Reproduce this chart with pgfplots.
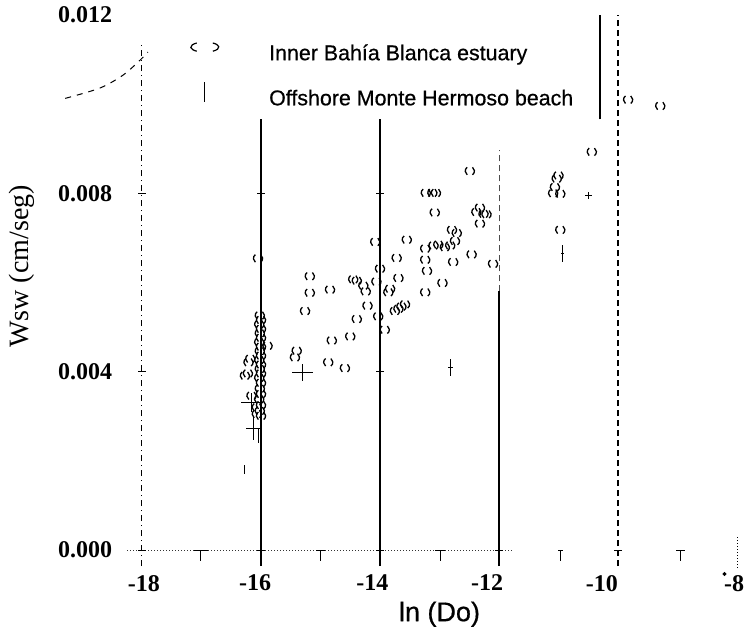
\documentclass[border=0pt]{standalone}
\usepackage{fontspec}
\setmainfont{Liberation Serif}
\newfontfamily\arial[FakeBold=0.6]{Liberation Sans}
\usepackage{pgfplots}
\pgfplotsset{compat=1.18}

% open circle as it came out of the scan: only the two side arcs
\pgfdeclareplotmark{paren}{%
  \pgfpathmoveto{\pgfpointpolar{125}{\pgfplotmarksize}}%
  \pgfpatharc{125}{235}{\pgfplotmarksize}%
  \pgfpathmoveto{\pgfpointpolar{-55}{\pgfplotmarksize}}%
  \pgfpatharc{-55}{55}{\pgfplotmarksize}%
  \pgfusepathqstroke
}

\begin{document}
\begin{tikzpicture}
\begin{axis}[
  name=ax,
  scale only axis, width=297.5pt, height=267.5pt,
  xmin=-18, xmax=-8, ymin=0, ymax=0.012,
  clip=false,
  axis line style={draw=none},
  major tick length=0pt,
  % labels sit a little off the grid lines in the scanned original
  xtick={-17.97,-16.10,-14.13,-12.20,-10.27,-8.05},
  xticklabels={-18,-16,-14,-12,-10,-8},
  ytick={0,0.004,0.008,0.012},
  yticklabels={0.000,0.004,0.008,0.012},
  scaled y ticks=false,
  ticklabel style={font=\fontsize{12}{14}\selectfont\bfseries},
  xticklabel style={yshift=-9pt},
  yticklabel style={xshift=-11.4pt},
  xlabel={ln (Do)},
  xlabel style={font=\arial\fontsize{13.5}{16}\selectfont, at={(axis description cs:0.5,-0.12)}, anchor=center},
  ylabel={Wsw (cm/seg)},
  ylabel style={font=\fontsize{14}{16}\selectfont, at={(axis description cs:-0.2017,0.53)}, anchor=center},
  legend image code/.code={\draw[#1] plot coordinates {(0pt,3.8pt)};},
  legend cell align=left,
  legend style={at={(axis description cs:0.0807,0.9484)}, anchor=north west,
    draw=none, fill=none, inner sep=0pt, row sep=8.5pt, column sep=25pt,
    nodes={inner sep=0pt, text height=8pt, text depth=2.5pt},
    font=\arial\fontsize{10.7}{13}\selectfont},
]

% frame lines of the original figure
\addplot[forget plot, black, line width=0.5pt, dash dot] coordinates {(-18,-0.00036) (-18,0.01133)};
\addplot[forget plot, black, line width=0.6pt] coordinates {(-16,-0.00036) (-16,0.00966)};
\addplot[forget plot, black, line width=0.6pt] coordinates {(-14,-0.00036) (-14,0.00966)};
\addplot[forget plot, black!70, line width=0.5pt, densely dashed] coordinates {(-12,0.00580) (-12,0.00897)};
\addplot[forget plot, black, line width=0.6pt] coordinates {(-12,-0.00036) (-12,0.00580)};
\addplot[forget plot, black, line width=0.7pt, densely dashed] coordinates {(-10,-0.00036) (-10,0.012)};
\addplot[forget plot, black, line width=1.1pt] coordinates {(-10.3,0.00966) (-10.3,0.012)};
\addplot[forget plot, black, line width=0.5pt, densely dotted] coordinates {(-8,-0.00040) (-8,0.00030)};
\addplot[forget plot, black!80, line width=0.5pt, densely dotted] coordinates {(-18.25,0) (-11.75,0)};
\addplot[forget plot, black, line width=0.5pt, dashed, smooth] coordinates {
  (-19.29,0.01013) (-18.71,0.01036) (-18.32,0.01065) (-18.03,0.01099) (-17.90,0.01117)};
\addplot[forget plot, only marks, mark=-, mark size=2pt, black, line width=0.5pt] coordinates {
  (-18,0) (-16,0) (-14,0) (-12,0) (-10,0)
  (-18,0.004) (-18,0.008) (-16,0.008) (-14,0.008) (-14,0.004)};

% Inner Bahia Blanca estuary
\addplot[forget plot, only marks, mark=paren, mark size=2.3pt, black, mark options={line width=0.65pt}] coordinates {
  (-16.05,0.00654)
  (-16.02,0.00526) (-16.00,0.00516) (-16.03,0.00506) (-16.00,0.00496) (-16.02,0.00486)
  (-16.00,0.00476) (-16.03,0.00466) (-16.00,0.00456) (-16.02,0.00446) (-16.00,0.00436)
  (-16.03,0.00426) (-16.00,0.00416) (-16.02,0.00406) (-16.00,0.00396) (-16.03,0.00386)
  (-16.00,0.00375) (-16.02,0.00362) (-16.00,0.00350) (-16.03,0.00338) (-16.00,0.00325)
  (-16.02,0.00312) (-16.00,0.00301)
  (-16.18,0.00429) (-16.21,0.00421) (-16.27,0.00391) (-16.22,0.00396) (-16.16,0.00346)
  (-16.07,0.00320) (-16.07,0.00305) (-15.89,0.00458)
  (-15.40,0.00447) (-15.43,0.00432)
  (-15.18,0.00614) (-15.18,0.00577) (-15.26,0.00536) (-14.84,0.00584)
  (-14.81,0.00470) (-14.50,0.00479) (-14.87,0.00421) (-14.59,0.00408)
  (-14.45,0.00607) (-14.39,0.00604) (-14.28,0.00593) (-14.24,0.00580) (-14.06,0.00602)
  (-14.00,0.00631) (-14.08,0.00691)
  (-14.21,0.00548) (-14.03,0.00524) (-14.39,0.00518) (-13.92,0.00494)
  (-13.69,0.00610) (-13.86,0.00578) (-13.83,0.00586) (-13.72,0.00655) (-13.55,0.00696)
  (-13.75,0.00536) (-13.69,0.00541) (-13.64,0.00546) (-13.58,0.00551)
  (-13.24,0.00578) (-13.21,0.00626) (-12.95,0.00599) (-13.24,0.00651) (-12.77,0.00646)
  (-12.46,0.00663) (-12.10,0.00642)
  (-13.24,0.00676) (-13.10,0.00683) (-13.02,0.00685) (-12.91,0.00679) (-12.82,0.00683)
  (-12.74,0.00693) (-12.79,0.00718) (-12.71,0.00711)
  (-13.23,0.00801) (-13.12,0.00801) (-13.06,0.00801) (-13.08,0.00757)
  (-12.49,0.00850)
  (-12.32,0.00768) (-12.38,0.00758) (-12.26,0.00754) (-12.21,0.00753) (-12.32,0.00732)
  (-11.03,0.00833) (-11.06,0.00814) (-10.97,0.00799) (-11.00,0.00840) (-11.09,0.00800)
  (-10.97,0.00718)
  (-10.44,0.00893) (-9.83,0.01010) (-9.29,0.00996)
};

% Offshore Monte Hermoso beach
\addplot[forget plot, draw=none, mark=none,
  error bars/.cd, x dir=both, x explicit, y dir=both, y explicit, error mark=none,
  error bar style={draw=black, solid, line width=0.5pt}] coordinates {
  (-15.30,0.00398) +- (0.18,0.00020)
  (-16.16,0.00331) +- (0.18,0.00022)
  (-16.13,0.00273) +- (0.13,0.00026)
  (-16.04,0.00256) +- (0.00,0.00015)
  (-16.28,0.00180) +- (0.00,0.00010)
  (-12.81,0.00410) +- (0.04,0.00019)
  (-10.93,0.00664) +- (0.03,0.00019)
  (-10.50,0.00796) +- (0.06,0.00008)
};
\addplot[forget plot, draw=none, mark=none,
  error bars/.cd, x dir=both, x explicit, y dir=minus, y explicit, error mark=none,
  error bar style={draw=black, solid, line width=0.5pt}] coordinates {
  (-17.01,0) +- (0.12,0.00025)
  (-15.00,0) +- (0.08,0.00025)
  (-12.99,0) +- (0.08,0.00025)
  (-10.97,0) +- (0.04,0.00025)
  (-8.95,0) +- (0.08,0.00025)
};
\addplot[forget plot, only marks, mark=*, mark size=0.8pt, black] coordinates {(-8.21,-0.00054)};

\addlegendimage{only marks, mark=paren, mark size=2.5pt, black, mark options={xscale=2.8, line width=0.6pt}}
\addlegendentry{Inner Bahía Blanca estuary}
\addlegendimage{only marks, mark=|, mark size=5pt, black, mark options={line width=0.5pt}}
\addlegendentry{Offshore Monte Hermoso beach}
\end{axis}
\pgfresetboundingbox
\path[use as bounding box] ([shift={(-71pt,-38.5pt)}]ax.south west) rectangle ([shift={(301.5pt,275pt)}]ax.south west);
\end{tikzpicture}
\end{document}
